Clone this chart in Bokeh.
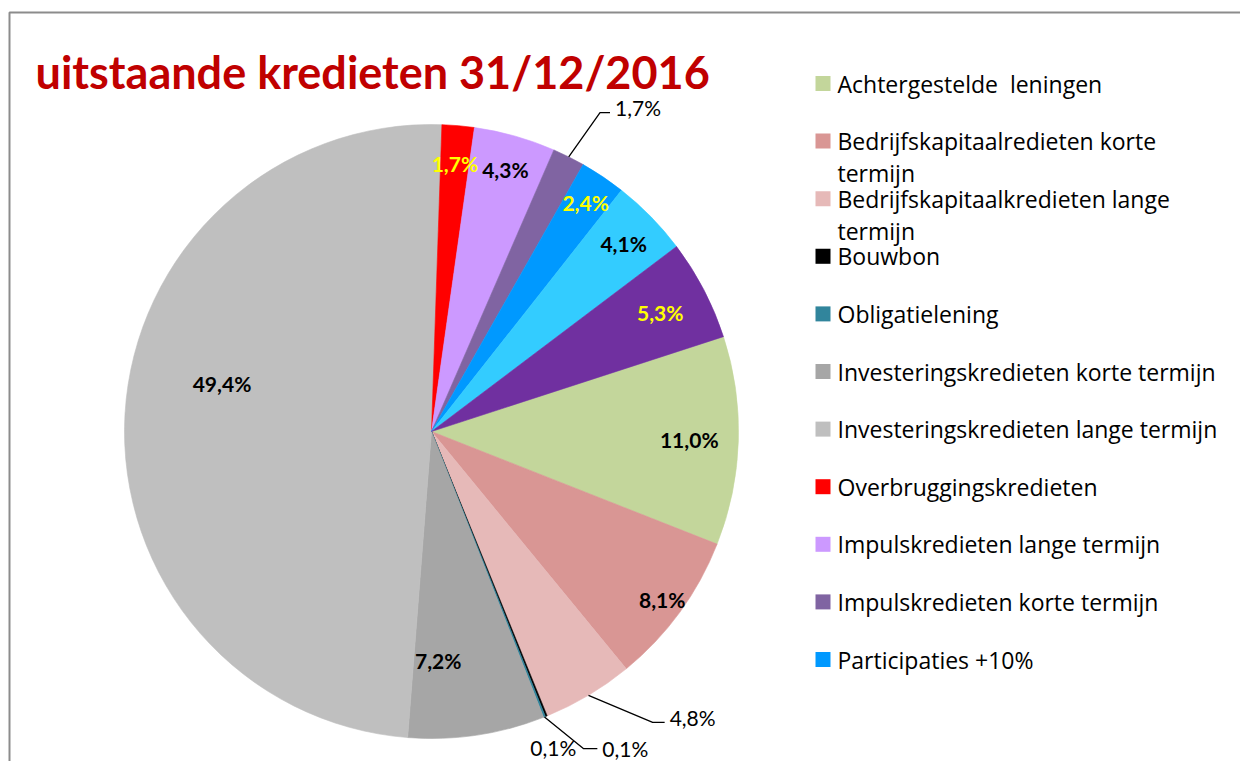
import math
from bokeh.plotting import figure
from bokeh.models import Range1d, ColumnDataSource
from bokeh.core.properties import value
from bokeh.embed import file_html
from bokeh.resources import INLINE

# ---------------- data ----------------
title_text = "uitstaande kredieten 31/12/2016"
categories = [
    "Achtergestelde  leningen",
    "Bedrijfskapitaalredieten korte termijn",
    "Bedrijfskapitaalkredieten lange termijn",
    "Bouwbon",
    "Obligatielening",
    "Investeringskredieten korte termijn",
    "Investeringskredieten lange termijn",
    "Overbruggingskredieten",
    "Impulskredieten lange termijn",
    "Impulskredieten korte termijn",
    "Participaties +10%",
    "Reeks 12",
    "Reeks 13",
]
values = [11.0, 8.1, 4.8, 0.1, 0.1, 7.2, 49.4, 1.7, 4.3, 1.7, 2.4, 4.1, 5.3]
legend_count = 11  # legend is clipped after 11 entries in the original

# ---------------- styles ----------------
colors = ["#C3D69B", "#D99694", "#E6B9B8", "#000000", "#31859C", "#A6A6A6",
          "#BFBFBF", "#FF0000", "#CC99FF", "#8064A2", "#0099FF", "#33CCFF", "#7030A0"]
label_colors = ["black"] * len(values)
for i in (7, 10, 12):
    label_colors[i] = "#FFFF00"

W, H = 1240, 761
def Y(sy):
    return H - sy

CX, CY, R = 431, 431, 307
FIRST_ANGLE = 72.0
FONT = "Lato"
LEGEND_FONT = "Open Sans"

# inside label placement: index -> (radius fraction, angle nudge in degrees)
inside = {0: (0.84, 0), 1: (0.93, 0), 5: (0.745, 6.8), 6: (0.70, 9.7), 7: (0.876, 0),
          8: (0.886, 0), 10: (0.9, 0), 11: (0.876, 0), 12: (0.84, 0)}
# outside label placement: index -> (elbow radius fraction, elbow angle nudge, horizontal length, side)
outside = {9: (1.175, 1.3, 10, "right"), 2: (1.19, -6.5, 12, "right"),
           4: (1.145, -4.0, 14, "right"), 3: (1.145, -4.0, 0, "left")}

def fmt(v):
    return ("%.1f%%" % v).replace(".", ",")

# ---------------- figure ----------------
p = figure(width=W, height=H, x_range=Range1d(0, W), y_range=Range1d(0, H),
           output_backend="svg", toolbar_location=None,
           x_axis_type=None, y_axis_type=None, min_border=0)
p.outline_line_color = None
p.background_fill_color = "white"
p.border_fill_color = "white"

# chart border
p.line([9, 9, W], [Y(H), Y(12), Y(12)], line_color="#8C8C8C", line_width=2)

# pie
total = sum(values)
starts, ends, mids = [], [], []
cum = 0.0
for v in values:
    t0 = FIRST_ANGLE + 360.0 * cum / total
    t1 = t0 + 360.0 * v / total
    starts.append(math.radians(90 - t0))
    ends.append(math.radians(90 - t1))
    mids.append((t0 + t1) / 2)
    cum += v

src = ColumnDataSource(dict(start=starts, end=ends, color=colors))
p.wedge(x=CX, y=Y(CY), radius=R, start_angle="start", end_angle="end",
        direction="clock", fill_color="color", line_color="color",
        line_width=0.6, source=src)

def polar(t, r):
    return CX + r * math.sin(math.radians(t)), CY - r * math.cos(math.radians(t))

# inside labels
lx, ly, lt, lc = [], [], [], []
for i, (rf, nudge) in inside.items():
    x, y = polar(mids[i] + nudge, rf * R)
    lx.append(x); ly.append(Y(y)); lt.append(fmt(values[i])); lc.append(label_colors[i])
p.text(x=lx, y=ly, text=lt, text_color=lc, text_font=value(FONT),
       text_font_size="21px", text_font_style="bold",
       text_align="center", text_baseline="middle")

# outside labels with leader lines
for i, (ef, nudge, hlen, side) in outside.items():
    x0, y0 = polar(mids[i], R)
    x1, y1 = polar(mids[i] + nudge, ef * R)
    if hlen > 0:
        p.line([x0, x1, x1 + hlen], [Y(y0), Y(y1), Y(y1)], line_color="black", line_width=1.3)
    if side == "right":
        tx, align = x1 + hlen + 5, "left"
    else:
        tx, align = x1 - 9, "right"
    p.text(x=[tx], y=[Y(y1 - 5 if i not in (3, 4) else y1)], text=[fmt(values[i])],
           text_color="black", text_font=value(FONT), text_font_size="21px",
           text_align=align, text_baseline="middle")

# title
p.text(x=[35], y=[Y(71)], text=[title_text], text_color="#C00000",
       text_font=value(FONT), text_font_size="45px", text_font_style="bold",
       text_align="left", text_baseline="alphabetic")

# legend
sq_x, tx0, y_first, step, wrap_gap = 822.5, 837, 83, 57.6, 32
sx, sy, sc = [], [], []
tx, ty, tt = [], [], []
for k in range(legend_count):
    yc = y_first + step * k
    sx.append(sq_x); sy.append(Y(yc)); sc.append(colors[k])
    name = categories[k]
    if len(name) > 35:
        a, b = name.rsplit(" ", 1)
        tx += [tx0, tx0]; ty += [Y(yc), Y(yc + wrap_gap)]; tt += [a, b]
    else:
        tx.append(tx0); ty.append(Y(yc)); tt.append(name.replace("  ", " \u00a0"))
p.rect(x=sx, y=sy, width=15, height=15, fill_color=sc, line_color=None)
p.text(x=tx, y=ty, text=tt, text_color="black", text_font=value(LEGEND_FONT),
       text_font_size="23px", text_align="left", text_baseline="middle")

open("out.html", "w").write(file_html(p, INLINE))
